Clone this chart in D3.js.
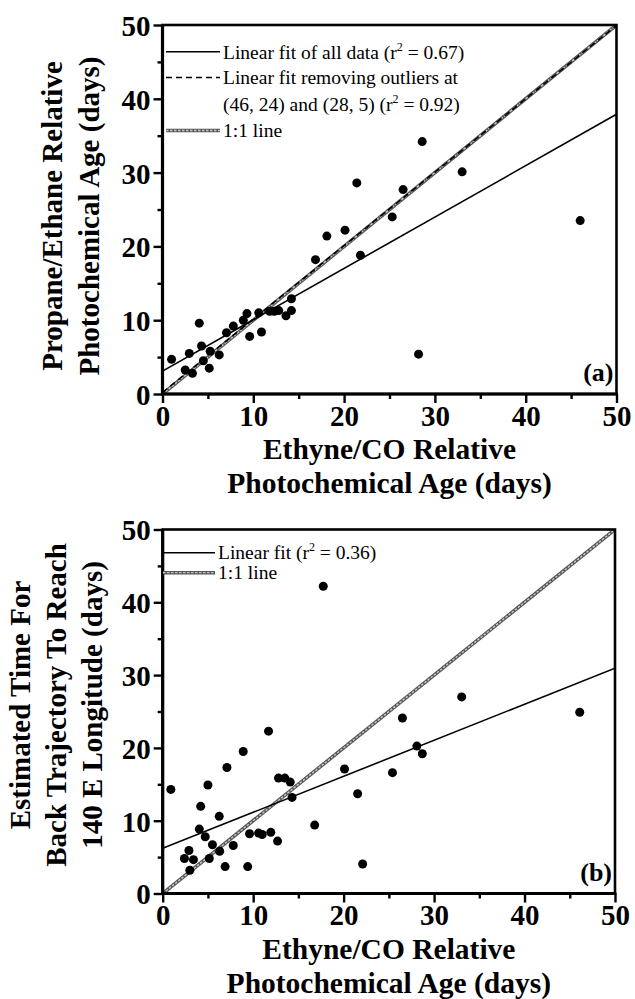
<!DOCTYPE html>
<html><head><meta charset="utf-8">
<script src="https://cdn.jsdelivr.net/npm/d3@7"></script>
<style>body{margin:0;background:#fff}svg{display:block}</style>
</head><body>
<svg id="c" width="635" height="999"></svg>
<script>
// ---- data ----
const majorTicks = [0, 10, 20, 30, 40, 50];
const minorTicks = [5, 15, 25, 35, 45];
// panel (a): Ethyne/CO age vs Propane/Ethane age
const aX = [1.0, 2.95, 2.5, 3.3, 4.05, 4.3, 4.5, 5.15, 5.25, 6.25, 7.05, 7.8, 8.9, 9.3, 9.6, 10.6, 10.9, 11.8, 12.3, 12.8, 13.6, 14.2, 14.2, 16.85, 18.1, 20.1, 21.4, 21.8, 25.3, 26.5, 28.2, 28.6, 33.0, 46.0];
const aY = [4.7, 5.5, 3.25, 2.8, 9.6, 6.5, 4.5, 3.5, 5.8, 5.3, 8.3, 9.2, 10.0, 10.9, 7.8, 11.0, 8.4, 11.2, 11.2, 11.3, 10.6, 11.3, 12.9, 18.2, 21.4, 22.2, 28.6, 18.8, 24.0, 27.7, 5.4, 34.2, 30.1, 23.5];
const aFitAll = [3.1, 0.696];      // intercept, slope (r2 = 0.67)
const aFitNoOut = [0.2, 0.995];    // intercept, slope (r2 = 0.92)
const aLegend = ["Linear fit of all data (r", "Linear fit removing outliers at", "(46, 24) and (28, 5) (r", "1:1 line"];
// panel (b): Ethyne/CO age vs back-trajectory time
const bX = [0.9, 2.4, 2.9, 3.0, 3.4, 4.05, 4.2, 4.7, 5.0, 5.15, 5.5, 6.25, 6.3, 6.9, 7.1, 7.8, 8.9, 9.4, 9.6, 10.6, 11.0, 11.7, 11.95, 12.7, 12.8, 13.5, 14.1, 14.3, 16.8, 17.75, 20.1, 21.55, 22.1, 25.4, 26.5, 28.1, 28.7, 33.05, 46.1];
const bY = [14.3, 4.8, 5.9, 3.2, 4.65, 8.85, 11.97, 7.8, 14.9, 4.8, 6.7, 10.6, 5.8, 3.7, 17.3, 6.6, 19.5, 3.7, 8.2, 8.3, 8.1, 22.3, 8.4, 7.2, 15.85, 15.85, 15.3, 13.2, 9.4, 42.2, 17.1, 13.7, 4.05, 16.6, 24.1, 20.25, 19.2, 27.0, 24.9];
const bFit = [6.2, 0.495];         // r2 = 0.36
const xTitle = ["Ethyne/CO Relative", "Photochemical Age (days)"];
const aYTitle = ["Propane/Ethane Relative", "Photochemical Age (days)"];
const bYTitle = ["Estimated Time For", "Back Trajectory To Reach", "140 E Longitude (days)"];

const svg = d3.select("#c");
const SERIF = "'Liberation Serif','Times New Roman',serif";

function panel(o) {
  const x = d3.scaleLinear().domain([0, 50]).range([o.left, o.right]);
  const y = d3.scaleLinear().domain([0, 50]).range([o.bottom, o.top]);
  const g = svg.append("g");

  const cid = "clip" + o.id;
  g.append("clipPath").attr("id", cid).append("rect")
    .attr("x", o.left).attr("y", o.top).attr("width", o.right - o.left).attr("height", o.bottom - o.top);
  const plot = g.append("g").attr("clip-path", `url(#${cid})`);

  // 1:1 line (grey textured)
  const one = plot.append("g");
  one.append("line").attr("x1", x(0)).attr("y1", y(0)).attr("x2", x(50)).attr("y2", y(50))
    .attr("stroke", "#555").attr("stroke-width", 3.6);
  one.append("line").attr("x1", x(0)).attr("y1", y(0)).attr("x2", x(50)).attr("y2", y(50))
    .attr("stroke", "#c8c8c8").attr("stroke-width", 1.4).attr("stroke-dasharray", "2.5,1.5");

  // fits
  o.fits.forEach(f => {
    plot.append("line").attr("x1", x(0)).attr("y1", y(f.c[0])).attr("x2", x(50)).attr("y2", y(f.c[0] + 50 * f.c[1]))
      .attr("stroke", "#000").attr("stroke-width", 1.6).attr("stroke-dasharray", f.dash || null);
  });

  // points
  plot.selectAll("circle").data(o.xs.map((v, i) => [v, o.ys[i]])).join("circle")
    .attr("cx", d => x(d[0])).attr("cy", d => y(d[1])).attr("r", 4.5).attr("fill", "#000");

  // frame
  g.append("rect").attr("x", o.left).attr("y", o.top).attr("width", o.right - o.left).attr("height", o.bottom - o.top)
    .attr("fill", "none").attr("stroke", "#000").attr("stroke-width", 2.6);

  // axes
  const styleAxis = (sel, fs) => {
    sel.select(".domain").remove();
    sel.selectAll(".tick line").attr("stroke", "#000").attr("stroke-width", 2.4);
    sel.selectAll(".tick text").attr("font-family", SERIF).attr("font-weight", "bold")
      .attr("font-size", fs).attr("fill", "#000");
  };
  g.append("g").attr("transform", `translate(0,${o.bottom})`)
    .call(d3.axisBottom(x).tickValues(majorTicks).tickSize(9).tickPadding(2).tickFormat(d3.format("d")))
    .call(s => styleAxis(s, 29));
  g.append("g").attr("transform", `translate(0,${o.bottom})`)
    .call(d3.axisBottom(x).tickValues(minorTicks).tickSize(5).tickFormat(""))
    .call(s => styleAxis(s, 0));
  g.append("g").attr("transform", `translate(${o.left},0)`)
    .call(d3.axisLeft(y).tickValues(majorTicks).tickSize(9).tickPadding(3).tickFormat(d3.format("d")))
    .call(s => { styleAxis(s, 29); s.selectAll(".tick text").attr("dy", "0.36em"); });
  g.append("g").attr("transform", `translate(${o.left},0)`)
    .call(d3.axisLeft(y).tickValues(minorTicks).tickSize(5).tickFormat(""))
    .call(s => styleAxis(s, 0));
  // thicker left / bottom axis lines
  g.append("line").attr("x1", o.left).attr("x2", o.left).attr("y1", o.top).attr("y2", o.bottom + 1.5)
    .attr("stroke", "#000").attr("stroke-width", 3.2);
  g.append("line").attr("x1", o.left - 1.5).attr("x2", o.right + 1.3).attr("y1", o.bottom).attr("y2", o.bottom)
    .attr("stroke", "#000").attr("stroke-width", 3.2);

  // panel label
  g.append("text").attr("x", o.right - 3).attr("y", o.bottom - 13).attr("text-anchor", "end")
    .attr("font-family", SERIF).attr("font-weight", "bold").attr("font-size", 26).text(o.tag);

  // x title
  const cx = (o.left + o.right) / 2;
  xTitle.forEach((t, i) => {
    g.append("text").attr("x", cx).attr("y", o.bottom + o.xTitleDy[i]).attr("text-anchor", "middle")
      .attr("font-family", SERIF).attr("font-weight", "bold").attr("font-size", 29.5).text(t);
  });

  // y title
  o.yTitle.forEach((t, i) => {
    g.append("text").attr("transform", `translate(${o.yTitleX[i]},${o.yTitleC}) rotate(-90)`).attr("text-anchor", "middle")
      .attr("font-family", SERIF).attr("font-weight", "bold").attr("font-size", 29).text(t);
  });

  // legend
  const lg = g.append("g").attr("font-family", SERIF).attr("font-size", 19.5).attr("fill", "#000");
  o.legend.forEach(r => {
    if (r.kind === "solid" || r.kind === "dash") {
      lg.append("line").attr("x1", r.x1).attr("x2", r.x2).attr("y1", r.ly).attr("y2", r.ly)
        .attr("stroke", "#000").attr("stroke-width", 1.6).attr("stroke-dasharray", r.kind === "dash" ? "6,4" : null);
    } else if (r.kind === "one") {
      lg.append("line").attr("x1", r.x1).attr("x2", r.x2).attr("y1", r.ly).attr("y2", r.ly)
        .attr("stroke", "#555").attr("stroke-width", 3.4);
      lg.append("line").attr("x1", r.x1).attr("x2", r.x2).attr("y1", r.ly).attr("y2", r.ly)
        .attr("stroke", "#c8c8c8").attr("stroke-width", 1.3).attr("stroke-dasharray", "2.5,1.5");
    }
    const t = lg.append("text").attr("x", r.tx).attr("y", r.ty);
    t.append("tspan").text(r.text);
    if (r.r2) {
      t.append("tspan").attr("dy", -8).attr("font-size", 12).text("2");
      t.append("tspan").attr("dy", 8).text(" = " + r.r2 + ")");
    }
  });
}

panel({
  id: "a", tag: "(a)", left: 162.5, right: 616.5, top: 25, bottom: 394,
  xs: aX, ys: aY,
  fits: [{ c: aFitAll }, { c: aFitNoOut, dash: "6,4" }],
  xTitleDy: [65, 99], yTitle: aYTitle, yTitleX: [62, 99], yTitleC: 216,
  legend: [
    { kind: "solid", x1: 166, x2: 220, ly: 51.7, tx: 223, ty: 59, text: aLegend[0], r2: "0.67" },
    { kind: "dash", x1: 166, x2: 220, ly: 77.5, tx: 223, ty: 84, text: aLegend[1] },
    { kind: "none", tx: 223, ty: 111, text: aLegend[2], r2: "0.92" },
    { kind: "one", x1: 166, x2: 220, ly: 130.5, tx: 223, ty: 137, text: aLegend[3] }
  ]
});

panel({
  id: "b", tag: "(b)", left: 162.7, right: 615, top: 529.5, bottom: 893.5,
  xs: bX, ys: bY,
  fits: [{ c: bFit }],
  xTitleDy: [65, 99], yTitle: bYTitle, yTitleX: [30, 66, 102], yTitleC: 705,
  legend: [
    { kind: "solid", x1: 163, x2: 215, ly: 552.7, tx: 218, ty: 558.5, text: "Linear fit (r", r2: "0.36" },
    { kind: "one", x1: 163, x2: 215, ly: 572.7, tx: 218, ty: 578.5, text: aLegend[3] }
  ]
});
</script>
</body></html>
